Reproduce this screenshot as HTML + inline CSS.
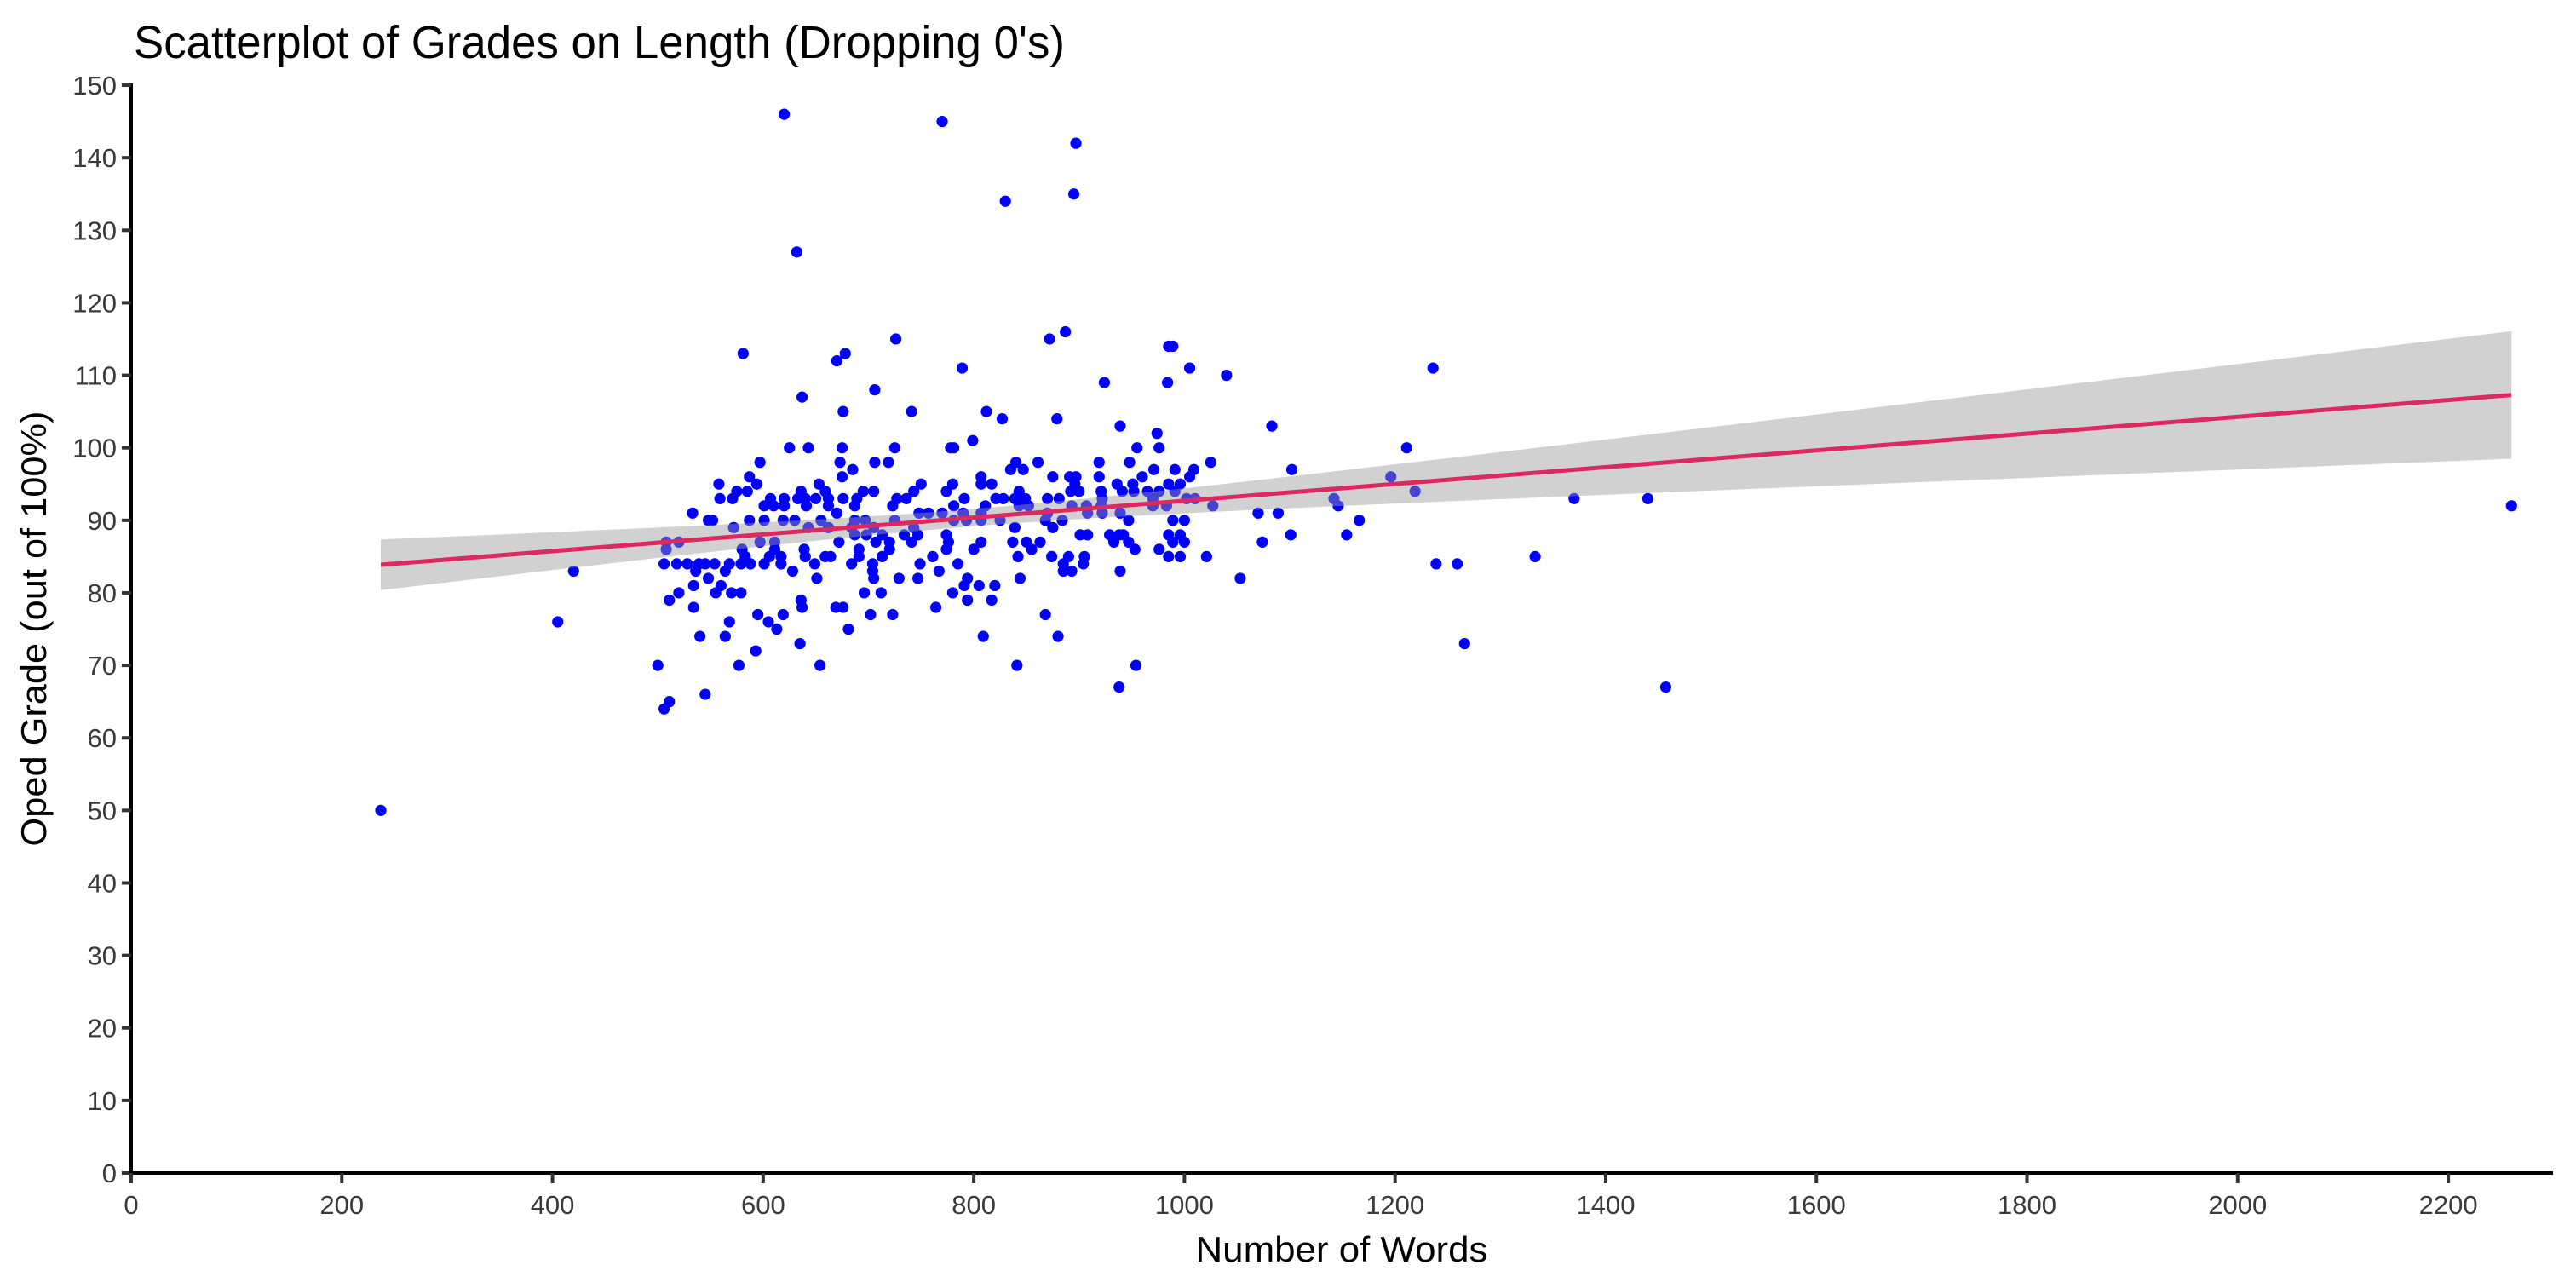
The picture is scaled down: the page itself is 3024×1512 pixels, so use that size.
<!DOCTYPE html>
<html><head><meta charset="utf-8"><style>
html,body{margin:0;padding:0;background:#fff;}
svg{display:block;font-family:"Liberation Sans",sans-serif;}
</style></head><body>
<svg id="chart" width="3024" height="1512" viewBox="0 0 3024 1512" xmlns="http://www.w3.org/2000/svg">
<rect width="3024" height="1512" fill="#fff"/>
<text x="157" y="68" font-size="54" fill="#000" textLength="1093" lengthAdjust="spacingAndGlyphs">Scatterplot of Grades on Length (Dropping 0's)</text>
<g id="band-layer"></g>
<g id="points"></g>
<g id="band-over"></g>
<g id="fit"></g>
<g id="yaxis"></g>
<g id="xaxis"></g>
<text x="1575" y="1481" font-size="42" fill="#000" text-anchor="middle" textLength="343" lengthAdjust="spacingAndGlyphs">Number of Words</text>
<text transform="translate(54,738) rotate(-90)" font-size="42" fill="#000" text-anchor="middle" textLength="511" lengthAdjust="spacingAndGlyphs">Oped Grade (out of 100%)</text>
</svg>
<script>
const xTicks = [0,200,400,600,800,1000,1200,1400,1600,1800,2000,2200];
const yTicks = [0,10,20,30,40,50,60,70,80,90,100,110,120,130,140,150];
const words = [];
const grades = [];
const rows = [
[237,50],[405,76],[420,83],[620,146],[632,127],[770,145],[830,134],[895,135],[897,142],[2260,92],[506,64],[511,65],[545,66],
[887,116],[726,115],[872,115],[985,114],[989,114],[581,113],[678,113],[670,112],[789,111],[1005,111],[1040,110],[924,109],[984,109],[706,108],[637,107],[676,105],[741,105],[812,105],[827,104],[879,104],[939,103],[974,102],[799,101],
[625,100],[643,100],[675,100],[725,100],[778,100],[781,100],[955,100],[976,100],
[597,98],[673,98],[706,98],[719,98],[840,98],[861,98],[919,98],[948,98],[1025,98],
[685,97],[835,97],[847,97],[971,97],[991,97],[1009,97],
[587,96],[675,96],[807,96],[875,96],[891,96],[897,96],[919,96],[960,96],[1005,96],
[558,95],[594,95],[653,95],[750,95],[780,95],[807,95],[817,95],[896,95],[936,95],[951,95],[985,95],[996,95],
[575,94],[585,94],[636,94],[659,94],[695,94],[705,94],[743,94],[774,94],[843,94],[892,94],[900,94],[921,94],[941,94],[952,94],[965,94],[976,94],[991,94],
[559,93],[571,93],[607,93],[620,93],[633,93],[640,93],[650,93],[662,93],[676,93],[689,93],[727,93],[736,93],[791,93],[821,93],[828,93],[839,93],[849,93],[870,93],[881,93],[922,93],[970,93],[1002,93],[1010,93],
[601,92],[610,92],[620,92],[641,92],[662,92],[687,92],[723,92],[781,92],[811,92],[843,92],[852,92],[893,92],[907,92],[921,92],[970,92],[983,92],[1027,92],
[533,91],[670,91],[748,91],[757,91],[770,91],[790,91],[807,91],[870,91],[908,91],[922,91],[939,91],
[548,90],[552,90],[587,90],[601,90],[619,90],[630,90],[655,90],[687,90],[697,90],[725,90],[781,90],[793,90],[807,90],[825,90],[868,90],[884,90],[947,90],[989,90],[1000,90],
[572,89],[643,89],[662,89],[684,89],[705,89],[743,89],[839,89],[875,89],
[687,88],[698,88],[713,88],[734,88],[747,88],[774,88],[901,88],[908,88],[929,88],[938,88],[942,88],[985,88],[996,88],
[508,87],[520,87],[597,87],[611,87],[672,87],[707,87],[720,87],[741,87],[776,87],[807,87],[837,87],[850,87],[863,87],[933,87],[947,87],[989,87],[1000,87],
[508,86],[580,86],[611,86],[639,86],[691,86],[720,86],[774,86],[800,86],[855,86],[953,86],[976,86],
[583,85],[606,85],[617,85],[640,85],[659,85],[664,85],[691,85],[713,85],[761,85],[842,85],[874,85],[890,85],[905,85],[985,85],[996,85],[1021,85],
[506,84],[518,84],[528,84],[539,84],[545,84],[554,84],[568,84],[579,84],[588,84],[601,84],[617,84],[649,84],[684,84],[704,84],[749,84],[785,84],[885,84],[904,84],
[536,83],[564,83],[628,83],[704,83],[767,83],[885,83],[893,83],[939,83],
[548,82],[651,82],[705,82],[729,82],[747,82],[794,82],[844,82],
[534,81],[560,81],[791,81],[805,81],[820,81],
[520,80],[555,80],[570,80],[579,80],[696,80],[712,80],[780,80],
[511,79],[636,79],[794,79],[817,79],
[534,78],[637,78],[669,78],[676,78],[764,78],
[595,77],[619,77],[702,77],[723,77],[868,77],
[568,76],[605,76],[613,75],[681,75],
[540,74],[564,74],[809,74],[880,74],[635,73],[593,72],
[500,70],[577,70],[654,70],[841,70],[954,70],[938,67],
[1083,103],[1102,97],[1211,100],[1236,111],[1196,96],[1219,94],[1142,93],[1146,92],[1070,91],[1089,91],[1166,90],[1074,87],[1101,88],[1154,88],[1053,82],[1239,84],[1259,84],[1333,85],[1370,93],[1440,93],[1266,73],[1457,67]
];
rows.forEach(r=>{words.push(r[0]);grades.push(r[1]);});

const NS="http://www.w3.org/2000/svg";
const X0=154, X1=2997, Y0=1377;
const xPx = v => 154 + v*1.2364;
const yPx = v => 1377 - v*8.513;
function mk(tag, attrs, parent){const e=document.createElementNS(NS,tag);for(const k in attrs)e.setAttribute(k,attrs[k]);parent.appendChild(e);return e;}

// points
const pg=document.getElementById('points');
for(let i=0;i<words.length;i++){
  const c=mk('circle',{cx:xPx(words[i]),cy:yPx(grades[i]),r:6.6,fill:'#0000ff'},pg);
  
  
}

// OLS fit + 95% CI
const n=words.length;
const mx=words.reduce((a,b)=>a+b,0)/n, my=grades.reduce((a,b)=>a+b,0)/n;
let sxx=0,sxy=0;for(let i=0;i<n;i++){sxx+=(words[i]-mx)**2;sxy+=(words[i]-mx)*(grades[i]-my);}
const b=sxy/sxx, a=my-b*mx;
let sse=0;for(let i=0;i<n;i++){sse+=(grades[i]-a-b*words[i])**2;}
const s=Math.sqrt(sse/(n-2)), t=1.967;
const xmin=Math.min(...words), xmax=Math.max(...words);
const up=[],lo=[];
for(let k=0;k<=80;k++){
  const xv=xmin+(xmax-xmin)*k/80;
  const se=s*Math.sqrt(1/n+(xv-mx)**2/sxx);
  const f=a+b*xv;
  up.push(xPx(xv)+','+yPx(f+t*se));
  lo.unshift(xPx(xv)+','+yPx(f-t*se));
}
const band=mk('polygon',{points:up.concat(lo).join(' '),fill:'#999999','fill-opacity':0.45},document.getElementById('band-over'));


const ln=mk('line',{x1:xPx(xmin),y1:yPx(a+b*xmin),x2:xPx(xmax),y2:yPx(a+b*xmax),stroke:'#dc2a60','stroke-width':5},document.getElementById('fit'));



// axes
const ya=document.getElementById('yaxis'), xa=document.getElementById('xaxis');
const yl=mk('line',{x1:X0,y1:yPx(150)-2,x2:X0,y2:Y0+2,stroke:'#000','stroke-width':4},ya);


const xl=mk('line',{x1:X0-2,y1:Y0,x2:X1,y2:Y0,stroke:'#000','stroke-width':4},xa);


yTicks.forEach(v=>{
  const tk=mk('line',{x1:X0-11,y1:yPx(v),x2:X0,y2:yPx(v),stroke:'#333','stroke-width':4},ya);
  
  
  const tx=mk('text',{x:X0-17,y:yPx(v)+11,'font-size':31,fill:'#3a3a3a','text-anchor':'end'},ya);
  tx.textContent=v;
  
  
});
xTicks.forEach(v=>{
  const tk=mk('line',{x1:xPx(v),y1:Y0,x2:xPx(v),y2:Y0+12,stroke:'#333','stroke-width':4},xa);
  
  
  const tx=mk('text',{x:xPx(v),y:Y0+48,'font-size':31,fill:'#3a3a3a','text-anchor':'middle'},xa);
  tx.textContent=v;
  
  
});
</script>
</body></html>
